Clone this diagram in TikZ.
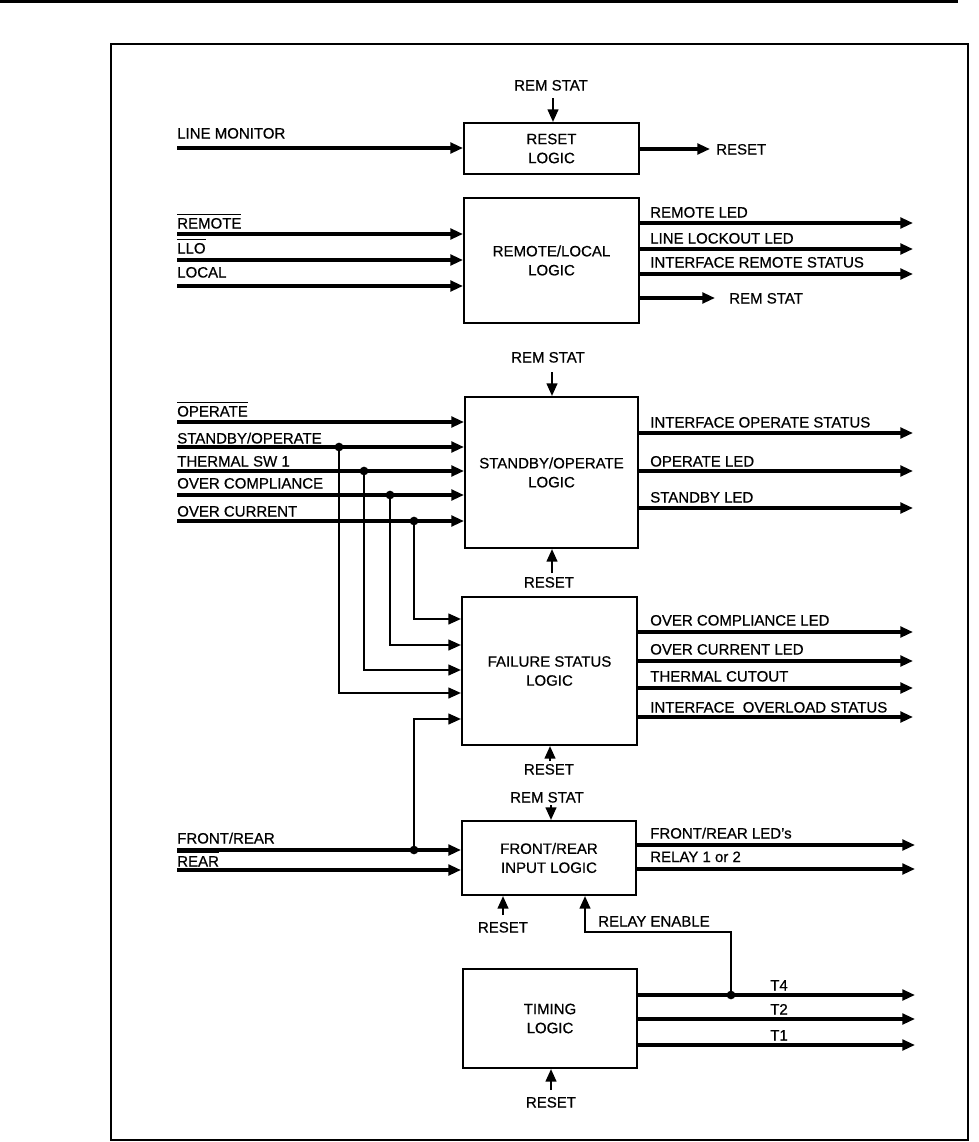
\documentclass[tikz,border=0pt]{standalone}
\usepackage{fontspec}
\setmainfont{Liberation Sans}[FakeBold=0.6]
\usetikzlibrary{arrows.meta}
\newcommand{\ovl}[1]{\setbox0\hbox{#1}\rlap{\rule[9.8pt]{\wd0}{1pt}}\box0}
\begin{document}
\begin{tikzpicture}[x=0.75pt,y=-0.75pt,
  font=\fontsize{11.25}{14.25}\selectfont,
  box/.style={draw,line width=1.5pt,align=center,inner sep=0pt},
  sig/.style={line width=2.3pt},
  arr/.style={-{Triangle[length=9.5pt,width=8pt]}},
  bus/.style={line width=1.7pt},
  lbl/.style={anchor=base west,inner sep=0pt},
  clbl/.style={anchor=base,inner sep=0pt},
  dot/.style={circle,fill,inner sep=0pt,minimum size=6.5pt}]
\useasboundingbox (0,0) rectangle (978,1142);
% page rule and frame
\draw[line width=2.4pt] (0,1.6) -- (958,1.6);
\draw[line width=1.2pt] (111,44) rectangle (968,1140);

% boxes
\node[box,minimum width=131.25pt,minimum height=38.25pt] (reset) at (551.5,148.5) {RESET\\LOGIC};
\node[box,minimum width=131.25pt,minimum height=93.75pt] (remote) at (551.5,260.5) {REMOTE/LOCAL\\LOGIC};
\node[box,minimum width=129.75pt,minimum height=113.25pt] (standby) at (551.5,472.5) {STANDBY/OPERATE\\LOGIC};
\node[box,minimum width=131.25pt,minimum height=111pt] (failure) at (549.5,671) {FAILURE STATUS\\LOGIC};
\node[box,minimum width=130.5pt,minimum height=55.5pt] (frontrear) at (549,858) {FRONT/REAR\\INPUT LOGIC};
\node[box,minimum width=130.5pt,minimum height=74.25pt] (timing) at (550,1018.5) {TIMING\\LOGIC};

% ---- reset logic
\node[clbl] (rsA) at (551,90.5) {REM STAT};
\coordinate (rsAt) at (553,98);
\draw[bus,arr] (rsAt) -- (rsAt |- reset.north);
\coordinate (lm) at (177,148);
\node[lbl] (lmL) at (177,138.5) {LINE MONITOR};
\draw[sig,arr] (lm) -- (lm -| reset.west);
\coordinate (rso) at (710,149);
\draw[sig,arr] (rso -| reset.east) -- (rso);
\node[lbl] (rsoL) at (716,154.5) {RESET};

% ---- remote/local logic
\coordinate (rm1) at (177,234);
\coordinate (rm2) at (177,260);
\coordinate (rm3) at (177,286);
\node[lbl] (rm1L) at (177,228.5) {\ovl{REMOTE}};
\node[lbl] (rm2L) at (177,253.5) {\ovl{LLO}};
\node[lbl] (rm3L) at (177,277.5) {LOCAL};
\foreach \c in {rm1,rm2,rm3} \draw[sig,arr] (\c) -- (\c -| remote.west);
\coordinate (ro1) at (913,223);
\coordinate (ro2) at (913,249);
\coordinate (ro3) at (913,274);
\coordinate (ro4) at (715,298);
\foreach \c in {ro1,ro2,ro3,ro4} \draw[sig,arr] (\c -| remote.east) -- (\c);
\node[lbl] (ro1L) at (650,217.5) {REMOTE LED};
\node[lbl] (ro2L) at (650,243.5) {LINE LOCKOUT LED};
\node[lbl] (ro3L) at (650,267.5) {INTERFACE REMOTE STATUS};
\node[lbl] (ro4L) at (729,303.5) {REM STAT};

% ---- standby/operate logic
\node[clbl] (rsB) at (548,362.5) {REM STAT};
\coordinate (rsBt) at (552,372);
\draw[bus,arr] (rsBt) -- (rsBt |- standby.north);
\coordinate (rstB) at (552,573);
\draw[bus,arr] (rstB) -- (rstB |- standby.south);
\node[clbl] (rstBL) at (549,587.5) {RESET};
\coordinate (si1) at (177,422);
\coordinate (si2) at (177,447);
\coordinate (si3) at (177,471);
\coordinate (si4) at (177,495);
\coordinate (si5) at (177,521);
\node[lbl] (si1L) at (177,416.5) {\ovl{OPERATE}};
\node[lbl] (si2L) at (177,443.5) {STANDBY/OPERATE};
\node[lbl] (si3L) at (177,466.5) {THERMAL SW 1};
\node[lbl] (si4L) at (177,488.5) {OVER COMPLIANCE};
\node[lbl] (si5L) at (177,516.5) {OVER CURRENT};
\foreach \c in {si1,si2,si3,si4,si5} \draw[sig,arr] (\c) -- (\c -| standby.west);
\coordinate (so1) at (913,433);
\coordinate (so2) at (913,471);
\coordinate (so3) at (913,508);
\foreach \c in {so1,so2,so3} \draw[sig,arr] (\c -| standby.east) -- (\c);
\node[lbl] (so1L) at (650,427.5) {INTERFACE OPERATE STATUS};
\node[lbl] (so2L) at (650,466.5) {OPERATE LED};
\node[lbl] (so3L) at (650,502.5) {STANDBY LED};

% ---- failure status logic
\coordinate (j1) at (339,447);
\coordinate (j2) at (364,471);
\coordinate (j3) at (390,495);
\coordinate (j4) at (414,521);
\coordinate (j5) at (414,850);
\coordinate (fi1) at (462,619);
\coordinate (fi2) at (462,645);
\coordinate (fi3) at (462,670);
\coordinate (fi4) at (462,693);
\coordinate (fi5) at (462,719);
\draw[bus,arr] (j4) |- (fi1 -| failure.west);
\draw[bus,arr] (j3) |- (fi2 -| failure.west);
\draw[bus,arr] (j2) |- (fi3 -| failure.west);
\draw[bus,arr] (j1) |- (fi4 -| failure.west);
\draw[bus,arr] (j5) |- (fi5 -| failure.west);
\foreach \c in {j1,j2,j3,j4,j5} \node[dot] at (\c) {};
\coordinate (fo1) at (913,632);
\coordinate (fo2) at (913,661);
\coordinate (fo3) at (913,688);
\coordinate (fo4) at (913,717);
\foreach \c in {fo1,fo2,fo3,fo4} \draw[sig,arr] (\c -| failure.east) -- (\c);
\node[lbl] (fo1L) at (650,625.5) {OVER COMPLIANCE LED};
\node[lbl] (fo2L) at (650,654.5) {OVER CURRENT LED};
\node[lbl] (fo3L) at (650,681.5) {THERMAL CUTOUT};
\node[lbl] (fo4L) at (650,712.5) {INTERFACE\ \ OVERLOAD STATUS};
\coordinate (rstF) at (550,761);
\draw[bus,arr] (rstF) -- (rstF |- failure.south);
\node[clbl] (rstFL) at (549,774.5) {RESET};

% ---- front/rear input logic
\node[clbl] (rsC) at (547,802.5) {REM STAT};
\coordinate (rsCt) at (551,805);
\draw[bus,arr] (rsCt) -- (rsCt |- frontrear.north);
\coordinate (fr1) at (177,850);
\coordinate (fr2) at (177,870);
\node[lbl] (fr1L) at (177,843.5) {FRONT/REAR};
\node[lbl] (fr2L) at (177,866.5) {\ovl{REAR}};
\draw[sig,arr] (fr1) -- (fr1 -| frontrear.west);
\draw[sig,arr] (fr2) -- (fr2 -| frontrear.west);
\coordinate (fro1) at (915,845);
\coordinate (fro2) at (915,869);
\foreach \c in {fro1,fro2} \draw[sig,arr] (\c -| frontrear.east) -- (\c);
\node[lbl] (fro1L) at (650,838.5) {FRONT/REAR LED's};
\node[lbl] (fro2L) at (650,862) {RELAY 1 or 2};
\coordinate (rstC) at (503,915);
\draw[bus,arr] (rstC) -- (rstC |- frontrear.south);
\node[clbl] (rstCL) at (503,932.5) {RESET};

% ---- timing logic
\coordinate (to1) at (915,995);
\coordinate (to2) at (915,1019);
\coordinate (to3) at (915,1045);
\foreach \c in {to1,to2,to3} \draw[sig,arr] (\c -| timing.east) -- (\c);
\node[clbl] (to1L) at (779,990.5) {T4};
\node[clbl] (to2L) at (779,1014.5) {T2};
\node[clbl] (to3L) at (779,1040.5) {T1};
\coordinate (jt) at (731,995);
\coordinate (re) at (585,932);
\draw[bus,arr] (jt) |- (re) -- (re |- frontrear.south);
\node[dot] at (jt) {};
\node[lbl] (reL) at (598,926.5) {RELAY ENABLE};
\coordinate (rstT) at (551,1090);
\draw[bus,arr] (rstT) -- (rstT |- timing.south);
\node[clbl] (rstTL) at (551,1107.5) {RESET};
\end{tikzpicture}
\end{document}
